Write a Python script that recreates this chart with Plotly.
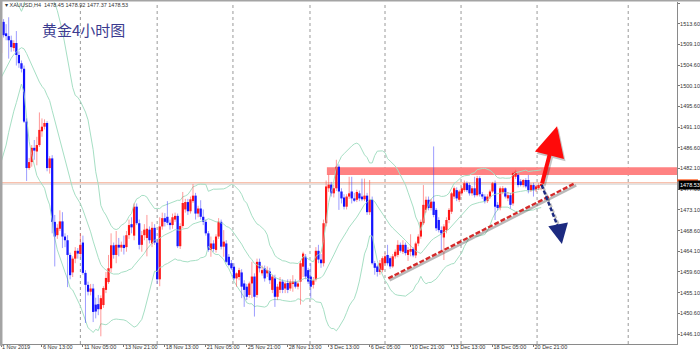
import plotly.graph_objects as go
import pandas as pd

# ---- XAUUSD H4 candles (bar index 0 = 1 Nov 2019 21:00) ----
opens = [1507.2,1514.0,1511.5,1510.9,1510.0,1508.3,1509.4,1506.8,1505.0,1503.8,
         1492.3,1482.2,1483.5,1486.6,1485.8,1487.2,1490.2,1491.2,1492.0,1482.2,
         1484.3,1470.5,1467.6,1469.0,1470.6,1467.3,1466.5,1463.3,1459.5,1462.5,
         1464.2,1463.5,1466.0,1459.4,1456.8,1455.3,1456.0,1452.5,1452.6,1451.5,
         1452.4,1455.7,1457.4,1460.4,1465.4,1463.3,1465.5,1464.9,1465.5,1465.0,
         1467.6,1470.0,1467.5,1473.8,1470.2,1465.5,1467.6,1467.0,1468.8,1465.8,
         1469.2,1466.0,1458.0,1469.5,1471.3,1471.6,1470.3,1469.8,1471.0,1471.8,
         1465.2,1469.6,1473.2,1474.8,1472.8,1475.0,1476.2,1472.3,1473.4,1471.6,
         1470.5,1468.0,1464.4,1465.8,1464.4,1467.3,1470.5,1465.1,1465.8,1462.9,
         1461.5,1460.75,1458.2,1458.5,1459.5,1457.1,1456.4,1454.6,1457.1,1458.6,
         1454.6,1461.8,1459.3,1460.4,1459.3,1459.7,1455.7,1458.2,1454.2,1455.7,
         1457.5,1456.0,1457.2,1456.0,1457.1,1457.5,1456.4,1457.5,1460.75,1462.9,
         1460.0,1458.6,1456.8,1458.0,1464.2,1462.3,1461.5,1470.2,1477.8,1478.6,
         1476.7,1477.8,1482.5,1477.1,1475.8,1473.8,1476.0,1477.1,1475.6,1475.3,
         1476.7,1476.0,1475.4,1476.2,1472.6,1475.3,1461.5,1460.8,1459.6,1460.0,
         1461.5,1463.3,1462.6,1460.8,1463.0,1463.3,1465.5,1464.0,1465.5,1463.3,
         1464.0,1464.6,1463.2,1465.8,1467.3,1470.2,1473.1,1475.3,1473.5,1474.9,
         1473.1,1470.9,1468.7,1467.1,1468.7,1470.9,1472.7,1476.0,1477.4,1475.3,
         1476.7,1477.4,1478.9,1478.5,1476.7,1477.8,1476.3,1480.0,1476.5,1476.0,
         1475.0,1476.0,1477.1,1478.9,1474.2,1473.5,1477.0,1477.8,1475.6,1476.3,
         1474.5,1480.3,1480.7,1479.3,1478.5,1479.6,1479.6,1477.4,1478.5,1477.4,
         1477.8,1478.45]
highs = [1515.5,1514.6,1513.5,1515.0,1511.0,1510.0,1512.0,1507.6,1505.6,1504.5,
         1493.0,1484.4,1487.2,1488.3,1489.0,1494.3,1493.0,1492.8,1492.4,1484.8,
         1485.0,1472.0,1470.0,1473.0,1472.6,1468.0,1467.6,1463.8,1463.0,1465.0,
         1464.8,1468.0,1467.5,1460.0,1457.5,1457.0,1457.0,1454.0,1454.6,1454.5,
         1456.5,1459.6,1463.3,1468.0,1466.0,1468.5,1467.0,1466.2,1467.5,1468.5,
         1471.0,1471.5,1474.5,1474.5,1471.0,1468.5,1470.0,1472.0,1469.5,1470.5,
         1470.0,1466.8,1471.5,1472.5,1472.4,1475.0,1471.0,1472.3,1472.5,1472.3,
         1470.2,1477.0,1475.5,1475.5,1476.0,1478.7,1476.8,1474.0,1475.2,1473.2,
         1471.0,1468.5,1467.3,1466.5,1467.8,1471.3,1471.0,1468.7,1466.5,1463.5,
         1462.2,1461.5,1459.5,1460.5,1460.2,1457.8,1457.0,1457.5,1461.8,1459.3,
         1462.5,1462.5,1461.0,1461.0,1460.8,1460.5,1459.0,1459.0,1457.0,1458.5,
         1458.0,1457.5,1458.0,1458.0,1458.9,1458.0,1457.5,1462.0,1464.0,1463.5,
         1460.5,1461.5,1458.5,1465.0,1465.5,1463.5,1471.0,1479.5,1480.8,1479.2,
         1478.5,1484.0,1483.0,1477.8,1476.5,1476.5,1480.3,1480.3,1476.8,1477.5,
         1477.3,1479.9,1479.9,1476.8,1479.6,1476.0,1462.0,1461.2,1462.2,1463.0,
         1463.8,1465.5,1463.0,1463.5,1464.5,1466.5,1466.0,1466.5,1466.0,1465.0,
         1467.8,1465.0,1466.2,1467.8,1471.0,1478.5,1476.0,1476.0,1475.5,1486.9,
         1473.5,1471.5,1469.5,1470.0,1471.5,1473.5,1477.0,1478.2,1478.0,1477.5,
         1478.2,1479.5,1479.3,1479.0,1478.3,1480.3,1480.5,1480.4,1477.0,1476.5,
         1476.5,1477.5,1479.2,1479.5,1474.8,1478.2,1478.3,1478.0,1477.0,1476.8,
         1481.4,1481.8,1481.0,1479.8,1479.8,1480.0,1480.7,1478.9,1479.0,1478.5,
         1478.9,1478.92]
lows = [1506.5,1510.6,1510.0,1506.0,1507.5,1507.6,1504.5,1504.0,1503.0,1492.0,
        1479.4,1481.8,1482.5,1484.0,1482.8,1486.8,1489.0,1490.6,1481.5,1481.0,
        1468.0,1460.8,1466.8,1468.5,1464.8,1465.0,1456.3,1458.0,1458.5,1461.5,
        1462.5,1462.8,1459.0,1448.5,1454.5,1454.5,1448.7,1449.5,1450.2,1445.6,
        1451.8,1455.0,1457.0,1459.5,1462.5,1461.5,1463.0,1464.0,1463.4,1464.0,
        1466.8,1468.0,1466.5,1469.8,1464.5,1464.0,1466.5,1463.0,1465.8,1465.0,
        1465.5,1457.0,1456.5,1468.8,1469.5,1469.8,1468.8,1469.0,1470.5,1464.8,
        1464.6,1469.2,1472.5,1472.0,1472.3,1474.6,1471.0,1471.5,1471.0,1469.8,
        1467.5,1464.0,1462.9,1464.0,1463.8,1466.8,1464.5,1462.9,1461.5,1460.8,
        1460.0,1457.8,1456.4,1457.8,1453.9,1452.0,1453.5,1454.0,1453.9,1449.9,
        1454.0,1459.5,1458.8,1457.5,1458.5,1457.0,1455.0,1452.0,1453.5,1455.0,
        1455.0,1455.0,1455.0,1455.5,1455.3,1456.0,1455.8,1452.5,1458.5,1458.0,
        1457.0,1453.9,1456.0,1457.5,1461.5,1460.5,1460.8,1469.5,1477.0,1476.0,
        1475.8,1477.2,1473.1,1474.5,1473.2,1473.2,1475.5,1474.5,1474.8,1474.8,
        1475.0,1475.0,1475.0,1472.0,1472.0,1461.2,1459.0,1458.6,1459.0,1459.5,
        1461.0,1461.0,1460.3,1460.5,1462.5,1462.8,1463.8,1463.5,1463.2,1462.0,
        1463.0,1462.8,1462.6,1465.2,1466.8,1469.8,1472.5,1473.0,1473.0,1471.5,
        1468.5,1468.2,1464.4,1462.2,1468.0,1470.2,1472.2,1475.5,1475.0,1474.8,
        1476.2,1477.0,1477.0,1476.2,1476.2,1475.8,1476.0,1476.0,1475.5,1474.5,
        1474.6,1475.5,1476.8,1470.9,1473.0,1473.0,1476.5,1475.6,1475.0,1473.4,
        1474.0,1479.8,1478.0,1478.2,1478.0,1477.8,1476.7,1477.0,1476.0,1477.0,
        1477.4,1477.37]
closes = [1514.0,1511.1,1510.9,1510.0,1508.5,1509.4,1506.8,1505.0,1503.8,1492.3,
          1482.2,1483.5,1486.6,1486.0,1487.2,1490.5,1491.2,1492.0,1482.2,1484.3,
          1470.5,1467.3,1469.2,1470.6,1467.3,1466.5,1463.3,1458.9,1462.5,1464.2,
          1463.6,1465.5,1459.4,1456.8,1455.3,1456.0,1450.9,1451.0,1451.5,1453.9,
          1456.1,1458.3,1460.4,1465.4,1463.3,1465.5,1464.9,1465.5,1464.8,1467.6,
          1469.8,1469.3,1473.8,1470.2,1465.5,1467.6,1468.8,1469.0,1466.5,1469.2,
          1466.0,1458.0,1469.5,1471.3,1470.5,1470.3,1469.8,1471.5,1471.8,1465.2,
          1469.6,1474.6,1474.8,1472.8,1475.4,1476.2,1472.3,1473.4,1471.6,1470.5,
          1468.0,1464.4,1465.8,1464.6,1467.3,1470.5,1465.1,1466.2,1461.8,1461.1,
          1460.4,1458.2,1459.3,1460.0,1456.4,1455.7,1454.2,1457.1,1458.6,1454.2,
          1461.8,1460.4,1460.0,1458.2,1460.0,1457.8,1458.6,1454.2,1456.4,1457.5,
          1455.7,1457.1,1455.7,1457.5,1457.5,1456.4,1457.1,1461.5,1463.6,1458.6,
          1457.5,1456.4,1457.8,1464.2,1462.3,1461.5,1470.2,1478.2,1478.6,1476.7,
          1477.8,1482.5,1477.1,1475.6,1473.8,1476.0,1476.7,1475.6,1475.1,1477.0,
          1475.6,1475.4,1476.2,1472.6,1475.3,1461.5,1460.5,1459.6,1461.5,1462.6,
          1463.0,1461.5,1460.8,1463.0,1464.0,1465.5,1464.2,1465.5,1463.7,1464.4,
          1464.6,1463.2,1465.8,1467.3,1470.5,1474.2,1475.3,1473.5,1474.9,1472.0,
          1469.1,1468.7,1468.0,1469.5,1470.9,1473.1,1476.7,1477.8,1475.6,1477.1,
          1477.8,1478.9,1477.4,1476.7,1477.8,1476.3,1480.0,1476.5,1476.0,1475.0,
          1476.0,1477.1,1478.9,1473.8,1473.5,1477.8,1477.8,1476.0,1476.3,1474.2,
          1481.1,1481.4,1478.5,1478.5,1479.6,1478.2,1477.4,1478.5,1477.4,1478.2,
          1478.5,1478.53]
# closes of the 19 bars before the first visible one (estimated, only feed the bands)
pre_closes = [1488.5,1489.0,1487.5,1490.0,1493.5,1495.0,1494.5,1496.0,1497.5,1502.5,
              1509.0,1511.5,1513.0,1511.0,1513.5,1509.5,1505.5,1508.0,1507.2]

x_tick_pos = [0,16,32,48,64,80,96,112,128,144,160,176,192,208]
x_tick_labels = ["1 Nov 2019","6 Nov 13:00","11 Nov 05:00","13 Nov 21:00","18 Nov 13:00",
                 "21 Nov 05:00","25 Nov 21:00","28 Nov 13:00","3 Dec 13:00","6 Dec 05:00",
                 "10 Dec 21:00","13 Dec 13:00","18 Dec 05:00","20 Dec 21:00"]
grid_pos = [31,61,90.6,120.7,150,179.7,209.4,245]
y_ticks = [1446.10,1450.60,1455.10,1459.60,1464.10,1468.60,1473.10,1477.60,1482.10,
           1486.60,1491.10,1495.60,1500.10,1504.60,1509.10,1513.60,1518.10]

# analyst drawings (bar index, price)
zone_x0, zone_lo, zone_hi = 127.3, 1480.7, 1482.4
trend_x = [151.3, 224.2]
trend_y = [1458.2, 1478.9]
arrow_tail = (211.2, 1478.5)
up_tip = (217.2, 1491.3)
down_tip = (219.1, 1465.7)
last_price = 1478.53

X_MAX = 264.06
n = len(closes)
idx = list(range(n))

# Bollinger bands (20, 2)
s = pd.Series(pre_closes + closes)
mid_s = s.rolling(20).mean().iloc[-n:]
sd = s.rolling(20).std(ddof=0).iloc[-n:]
mid = mid_s.tolist()
upper = (mid_s + 2 * sd).tolist()
lower = (mid_s - 2 * sd).tolist()

fig = go.Figure()
band_col = "#a6dfc4"
for band in (upper, mid, lower):
    fig.add_trace(go.Scatter(x=idx, y=band, mode="lines",
                             line=dict(color=band_col, width=1), hoverinfo="skip"))

def wick_trace(sel, color):
    xs, ys = [], []
    for i in sel:
        xs += [i, i, None]
        ys += [lows[i], highs[i], None]
    return go.Scatter(x=xs, y=ys, mode="lines", line=dict(color=color, width=1),
                      hoverinfo="skip")

up = [i for i in idx if closes[i] >= opens[i]]
dn = [i for i in idx if closes[i] < opens[i]]
fig.add_trace(wick_trace(up, "rgba(255,70,70,0.55)"))
fig.add_trace(wick_trace(dn, "rgba(60,60,255,0.5)"))

def body_trace(sel, color):
    return go.Bar(x=sel,
                  base=[min(opens[i], closes[i]) for i in sel],
                  y=[max(abs(closes[i] - opens[i]), 0.18) for i in sel],
                  width=0.85, marker=dict(color=color, line=dict(width=0)),
                  hoverinfo="skip")

fig.add_trace(body_trace(up, "#ff0000"))
fig.add_trace(body_trace(dn, "#0000ff"))

# trend line with shadow
fig.add_trace(go.Scatter(x=[v + 0.5 for v in trend_x], y=[v - 0.45 for v in trend_y],
                         mode="lines", line=dict(color="rgba(0,0,0,0.28)", width=2.5),
                         hoverinfo="skip"))
fig.add_trace(go.Scatter(x=trend_x, y=trend_y, mode="lines",
                         line=dict(color="#d42a2a", width=2.4, dash="5px,2px"),
                         hoverinfo="skip"))
# dashed blue arrow shaft (with shadow)
fig.add_trace(go.Scatter(x=[arrow_tail[0] + 0.6, down_tip[0] + 0.3],
                         y=[arrow_tail[1] - 0.4, down_tip[1] + 2.0],
                         mode="lines", line=dict(color="rgba(0,0,0,0.25)", width=2.5, dash="4px,2px"),
                         hoverinfo="skip"))
fig.add_trace(go.Scatter(x=[arrow_tail[0], down_tip[0] - 0.5],
                         y=[arrow_tail[1], down_tip[1] + 2.2],
                         mode="lines", line=dict(color="#1c2a80", width=2.5, dash="4px,2px"),
                         hoverinfo="skip"))

shapes = [
    dict(type="rect", xref="x", yref="y", x0=zone_x0, x1=X_MAX, y0=zone_lo, y1=zone_hi,
         fillcolor="#ff8282", line=dict(width=0), layer="below"),
    dict(type="line", xref="paper", yref="y", x0=0, x1=1, y0=1478.97, y1=1478.97,
         line=dict(color="#f6ad93", width=1.2), layer="below"),
    dict(type="line", xref="paper", yref="y", x0=0, x1=1, y0=1478.68, y1=1478.68,
         line=dict(color="#e2e2e2", width=1.3), layer="below"),
    # window frame
    dict(type="rect", xref="paper", yref="paper", x0=-0.0015, x1=0.0022, y0=-0.005, y1=1.006,
         fillcolor="#a4a4a4", line=dict(width=0)),
    dict(type="rect", xref="paper", yref="paper", x0=-0.0015, x1=1.035, y0=1.0015, y1=1.006,
         fillcolor="#a4a4a4", line=dict(width=0)),
    dict(type="rect", xref="paper", yref="y", x0=1.0, x1=1.031, y0=1479.3, y1=1479.75,
         fillcolor="#ff5a1e", line=dict(width=0)),
]
# dotted vertical grid
for g in grid_pos:
    shapes.append(dict(type="line", xref="x", yref="paper", x0=g, x1=g, y0=0, y1=1,
                       line=dict(color="#9a9a9a", width=1, dash="dot"), layer="below"))

annotations = [
    # red up arrow: shadow then arrow
    dict(x=up_tip[0] + 0.6, y=up_tip[1] - 0.5, ax=arrow_tail[0] + 0.6, ay=arrow_tail[1] - 0.5,
         xref="x", yref="y", axref="x", ayref="y", text="", showarrow=True,
         arrowhead=2, arrowsize=1.5, arrowwidth=4, arrowcolor="rgba(0,0,0,0.22)", standoff=0),
    dict(x=up_tip[0], y=up_tip[1], ax=arrow_tail[0], ay=arrow_tail[1],
         xref="x", yref="y", axref="x", ayref="y", text="", showarrow=True,
         arrowhead=2, arrowsize=1.5, arrowwidth=4, arrowcolor="#ff0a0a", standoff=0),
    # blue arrow head
    dict(x=down_tip[0], y=down_tip[1], ax=down_tip[0] - 0.9, ay=down_tip[1] + 2.6,
         xref="x", yref="y", axref="x", ayref="y", text="", showarrow=True,
         arrowhead=2, arrowsize=1.6, arrowwidth=2.5, arrowcolor="#1c2a80", standoff=0),
    dict(x=1, xref="paper", xanchor="left", xshift=1, y=last_price, yref="y",
         text="1478.53", showarrow=False, bgcolor="#000000", borderpad=1,
         font=dict(color="white", size=5.5, family="Liberation Sans")),
    dict(x=0.003, y=0.991, xref="paper", yref="paper", xanchor="left", yanchor="middle",
         text="▾ XAUUSD,H4  1478.45 1478.92 1477.37 1478.53", showarrow=False,
         font=dict(size=5.5, color="#333333", family="Liberation Sans")),
    dict(x=0.0577, y=0.921, xref="paper", yref="paper", xanchor="left", yanchor="middle",
         text="黄金4小时图", showarrow=False,
         font=dict(size=15, color="#3b3b8f", family="Noto Sans CJK SC")),
]

fig.update_layout(
    width=700, height=355,
    margin=dict(l=1, r=23, t=2, b=11),
    paper_bgcolor="white", plot_bgcolor="white",
    showlegend=False, barmode="overlay",
    shapes=shapes, annotations=annotations,
    xaxis=dict(range=[0, X_MAX], showgrid=False, zeroline=False,
               tickmode="array", tickvals=x_tick_pos, ticktext=x_tick_labels,
               ticks="outside", ticklen=2, tickcolor="#777777", tickangle=0,
               ticklabelposition="outside right", ticklabelstandoff=-3,
               tickfont=dict(size=5.5, color="#333333", family="Liberation Sans"),
               showline=True, linecolor="#8a8a8a", linewidth=1,
               automargin=False),
    yaxis=dict(range=[1443.93, 1518.32], side="right", showgrid=False, zeroline=False,
               tickmode="array", tickvals=y_ticks, ticktext=[f"{v:.2f}" for v in y_ticks],
               ticks="outside", ticklen=2, tickcolor="#777777", ticklabelstandoff=-1,
               tickfont=dict(size=5.5, color="#333333", family="Liberation Sans"),
               showline=True, linecolor="#8a8a8a", linewidth=1, automargin=False),
)

fig.write_html("out.html", config={"displayModeBar": False},
               post_script="document.body.style.margin='0';")
